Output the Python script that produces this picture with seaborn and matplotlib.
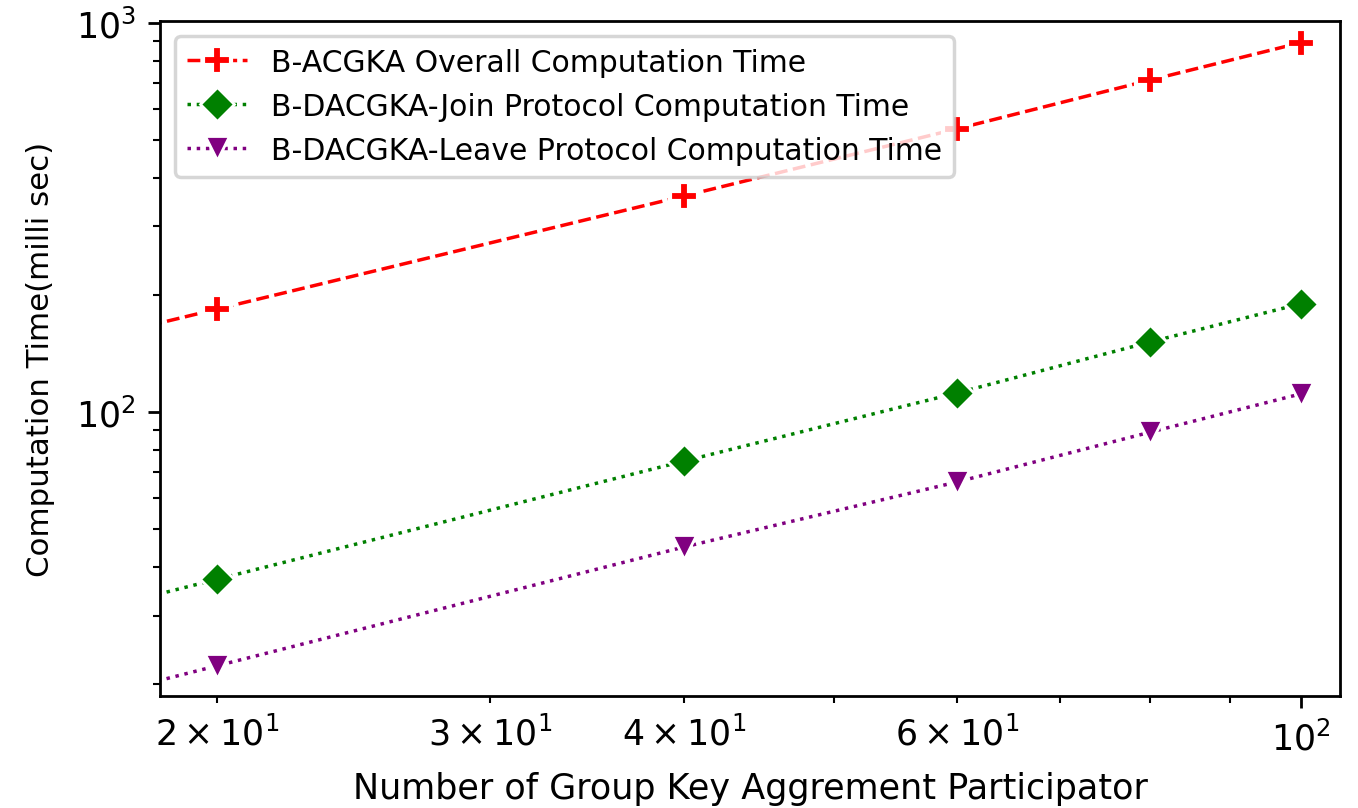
import numpy as np
import pandas as pd
import matplotlib
matplotlib.use("Agg")
import matplotlib.pyplot as plt
import seaborn as sns

participants = [20, 40, 60, 80, 100]
overall_time = [184, 359, 534, 713, 889]
join_time = [37.2, 74.8, 111.9, 151.4, 189.7]
leave_time = [22.3, 45.0, 66.1, 88.8, 111.3]

labels = ["B-ACGKA Overall Computation Time",
          "B-DACGKA-Join Protocol Computation Time",
          "B-DACGKA-Leave Protocol Computation Time"]

fig = plt.figure(figsize=(13.58 / 2.5, 8.09 / 2.5), dpi=250)
ax = fig.add_axes([0.118, 0.138, 0.869, 0.835])

styles = [
    dict(color="red", linestyle="--", marker="P", markersize=8, markeredgewidth=1.2),
    dict(color="green", linestyle=":", marker="D", markersize=7, markeredgewidth=0.8),
    dict(color="purple", linestyle=":", marker="v", markersize=7, markeredgewidth=0.8),
]

x_ext = 15.0
for ys, lab, st in zip([overall_time, join_time, leave_time], labels, styles):
    # extend the line leftwards along the first segment's log-log slope
    slope = np.log(ys[1] / ys[0]) / np.log(participants[1] / participants[0])
    y_ext = ys[0] * (x_ext / participants[0]) ** slope
    df = pd.DataFrame({"x": [x_ext] + participants, "y": [y_ext] + ys})
    sns.lineplot(data=df, x="x", y="y", ax=ax, label=lab, sort=False,
                 linewidth=1.0, markevery=list(range(1, len(ys) + 1)), **st)

ax.set_xscale("log")
ax.set_yscale("log")
ax.set_xlim(18.37, 106.1)
ax.set_ylim(18.6, 1012)
ax.set_xlabel("Number of Group Key Aggrement Participator", fontsize=10.1)
ax.set_ylabel("Computation Time(milli sec)", fontsize=8.9, labelpad=6)
ax.legend(loc="upper left", fontsize=8.6)

fig.savefig("out.png", dpi=250)
